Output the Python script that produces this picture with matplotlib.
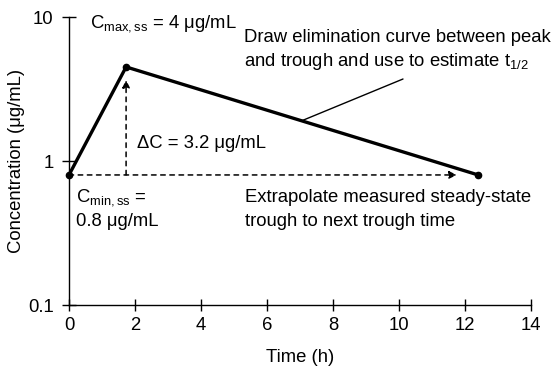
import matplotlib
matplotlib.use("Agg")
import matplotlib.pyplot as plt
from matplotlib.ticker import FixedLocator, NullLocator
import math

plt.rcParams['font.family'] = ['Liberation Sans', 'DejaVu Sans']
plt.rcParams['mathtext.fontset'] = 'custom'
plt.rcParams['mathtext.rm'] = 'Liberation Sans'
plt.rcParams['mathtext.it'] = 'Liberation Sans'

time_h = [0.0, 1.73, 12.4]
conc = [0.8, 4.5, 0.8]
x_ticks = [0, 2, 4, 6, 8, 10, 12, 14]
y_ticks = [0.1, 1, 10]
y_tick_labels = ['0.1', '1', '10']
extrap_end = 11.75
delta_top = 3.65
pointer_t = 7.05

fig = plt.figure(figsize=(5.55, 3.68), dpi=100)
ax = fig.add_axes([69/555, 1-305/368, (531-69)/555, (305-17)/368])
ax.set_yscale('log')
ax.set_xlim(0, 14)
ax.set_ylim(0.1, 10)

for s in ['top', 'right']:
    ax.spines[s].set_visible(False)
for s in ['left', 'bottom']:
    ax.spines[s].set_linewidth(1.0)

fs = 13.3
ax.xaxis.set_major_locator(FixedLocator(x_ticks))
ax.set_xticklabels([str(v) for v in x_ticks])
ax.yaxis.set_major_locator(FixedLocator(y_ticks))
ax.yaxis.set_minor_locator(NullLocator())
ax.set_yticklabels(y_tick_labels)
ax.tick_params(axis='x', direction='inout', length=8, width=1, labelsize=fs, pad=5)
ax.tick_params(axis='y', direction='inout', length=10, width=1, labelsize=fs, pad=6)

ax.plot(time_h, conc, color='black', lw=2.4, marker='o', ms=4.5, clip_on=False, zorder=3)

ax.annotate('', xy=(extrap_end, conc[0]), xytext=(time_h[0], conc[0]),
            arrowprops=dict(arrowstyle='-|>', linestyle=(0, (3, 3)), color='black', lw=1.1,
                            mutation_scale=11, shrinkA=0, shrinkB=0))
ax.annotate('', xy=(time_h[1], delta_top), xytext=(time_h[1], conc[0]),
            arrowprops=dict(arrowstyle='-|>', linestyle=(0, (3, 3)), color='black', lw=1.1,
                            mutation_scale=11, shrinkA=0, shrinkB=0))

lc = math.exp(math.log(conc[1]) + (math.log(conc[2]) - math.log(conc[1])) * (pointer_t - time_h[1]) / (time_h[2] - time_h[1]))
ax.annotate('', xy=(pointer_t, lc), xycoords='data',
            xytext=(403, 368-79), textcoords='figure pixels',
            arrowprops=dict(arrowstyle='-', color='black', lw=1.0, shrinkA=0, shrinkB=0))

def ftext(x, y, s, **kw):
    fig.text(x/555, 1-y/368, s, fontsize=fs, va='center', ha='left', **kw)

ftext(90, 24, r'C$_{\mathrm{max,ss}}$ = 4 μg/mL')
ftext(244, 37, 'Draw elimination curve between peak')
ftext(244, 62, r'and trough and use to estimate t$_{\mathrm{1/2}}$')
ftext(137, 143, 'ΔC = 3.2 μg/mL')
ftext(76, 198, r'C$_{\mathrm{min,ss}}$ =')
ftext(76, 222, '0.8 μg/mL')
ftext(245, 198, 'Extrapolate measured steady-state')
ftext(245, 222, 'trough to next trough time')

fig.text(300/555, 1-358/368, 'Time (h)', fontsize=fs, ha='center', va='center')
fig.text(17/555, 1-161/368, 'Concentration (μg/mL)', fontsize=fs, ha='center', va='center', rotation=90)

fig.savefig('out.png', dpi=100)
